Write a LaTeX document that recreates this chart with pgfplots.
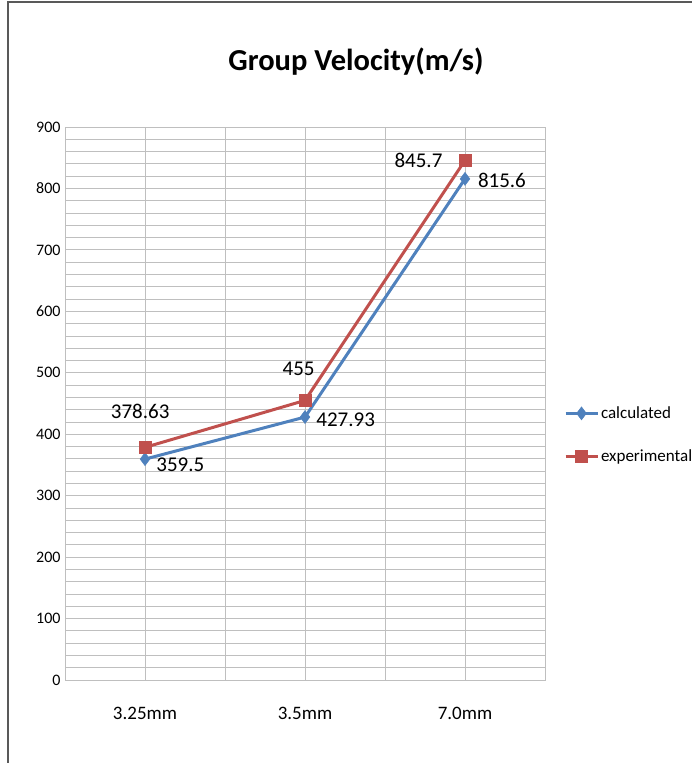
\documentclass[border=0pt]{standalone}
\usepackage{pgfplots}
\pgfplotsset{compat=1.18}
\usepackage{fontspec}
\setmainfont{Carlito}
\definecolor{calc}{HTML}{4F81BD}
\definecolor{expe}{HTML}{C0504D}
\definecolor{gridc}{HTML}{BFBFBF}
\begin{document}
\begin{tikzpicture}[x=1pt,y=1pt]
\useasboundingbox (0,0) rectangle (693,765);
\draw[gray!70!black, line width=2pt] (8,2) -- (8,763) -- (692,763);
\node[font=\fontsize{30.5}{34}\selectfont\bfseries] at (356,703) {Group Velocity(m/s)};
\begin{axis}[
  at={(65pt,85pt)}, anchor=south west,
  scale only axis, width=480pt, height=553pt,
  xmin=-0.5, xmax=2.5, ymin=0, ymax=900,
  xtick={0,1,2}, xticklabels={3.25mm,3.5mm,7.0mm},
  minor xtick={-0.5,0.5,1.5,2.5},
  ytick={0,100,...,900},
  minor ytick={20,40,60,80,120,140,160,180,220,240,260,280,320,340,360,380,420,440,460,480,520,540,560,580,620,640,660,680,720,740,760,780,820,840,860,880},
  grid=both,
  major grid style={gridc, line width=0.8pt},
  minor grid style={gridc, line width=0.8pt},
  axis line style={gridc, line width=0.8pt},
  tick style={draw=none},
  /pgf/number format/assume math mode=true,
  yticklabel style={font=\fontsize{16}{18}\selectfont, xshift=-1pt},
  xticklabel style={font=\fontsize{19}{22}\selectfont, yshift=-24pt},
  legend style={at={(1.035,0.443)}, anchor=west, draw=none, fill=none,
    font=\fontsize{17}{20}\selectfont, row sep=26pt, inner xsep=2pt,
    /tikz/every even column/.append style={column sep=0pt}},
  legend image code/.code={
    \draw[#1, mark=none] (0pt,0pt) -- (32pt,0pt);
    \draw[#1, line width=0.5pt] plot coordinates {(16pt,0pt)};
  },
  legend cell align=left,
  clip=false,
]
\addplot[calc, line width=3pt, mark=diamond*, mark size=6.5pt, mark options={solid, line width=0.5pt}]
  coordinates {(0,359.5) (1,427.93) (2,815.6)};
\addlegendentry{calculated}
\addplot[expe, line width=3pt, mark=square*, mark size=6pt, mark options={solid, line width=0.5pt}]
  coordinates {(0,378.63) (1,455) (2,845.7)};
\addlegendentry{experimental}
\tikzset{lab/.style={font=\fontsize{21}{24}\selectfont, inner sep=0pt}}
\node[lab, anchor=west] at (axis cs:0.07,350) {359.5};
\node[lab, anchor=west] at (axis cs:1.07,424) {427.93};
\node[lab, anchor=west] at (axis cs:2.08,813) {815.6};
\node[lab, anchor=east] at (axis cs:1.86,845) {845.7};
\node[lab] at (axis cs:-0.03,437) {378.63};
\node[lab] at (axis cs:0.96,507) {455};
\end{axis}
\end{tikzpicture}
\end{document}
